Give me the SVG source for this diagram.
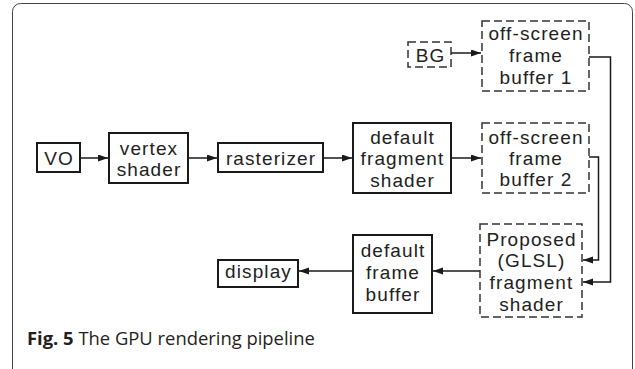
<svg xmlns="http://www.w3.org/2000/svg" width="635" height="369" viewBox="0 0 635 369">
<style>
.solid{fill:#fff;stroke:#1a1a1a;stroke-width:2}
.dash{fill:#fff;stroke:#333;stroke-width:1.5;stroke-dasharray:8 4}
.t{font-family:"Liberation Sans",Arial,sans-serif;font-size:19px;fill:#222;text-anchor:middle;letter-spacing:1.1px}
.c{fill:none;stroke:#1a1a1a;stroke-width:1.5}
.cap{font-family:"Open Sans","Noto Sans",sans-serif;font-size:18.4px;fill:#231f20}
</style>
<defs>
<marker id="ah" markerUnits="userSpaceOnUse" markerWidth="11" markerHeight="8" refX="10" refY="3.5" orient="auto">
<path d="M0,0 L10,3.5 L0,7 z" fill="#1a1a1a"/>
</marker>
</defs>
<rect x="0" y="0" width="635" height="369" fill="#fff"/>
<rect x="12.5" y="3.5" width="620" height="380" rx="8" fill="none" stroke="#444" stroke-width="1"/>
<g id="connectors">
<line class="c" x1="451" y1="53" x2="481" y2="53" marker-end="url(#ah)"/>
<line class="c" x1="80" y1="158" x2="108" y2="158" marker-end="url(#ah)"/>
<line class="c" x1="188" y1="158" x2="217" y2="158" marker-end="url(#ah)"/>
<line class="c" x1="323" y1="158" x2="352" y2="158" marker-end="url(#ah)"/>
<line class="c" x1="451" y1="158" x2="481" y2="158" marker-end="url(#ah)"/>
<path class="c" d="M589,57 H610.5 V282 H583" marker-end="url(#ah)"/>
<path class="c" d="M589,157 H598.5 V260 H583" marker-end="url(#ah)"/>
<line class="c" x1="480" y1="271" x2="433" y2="271" marker-end="url(#ah)"/>
<line class="c" x1="353" y1="271" x2="299" y2="271" marker-end="url(#ah)"/>
</g>
<g id="bg"><rect class="dash" x="408" y="42" width="43" height="25"/><text class="t" x="430.5" y="61.5">BG</text></g>
<g id="fb1"><rect class="dash" x="482" y="21" width="107" height="70"/>
<text class="t" x="536" y="40">off-screen</text><text class="t" x="536" y="61.5">frame</text><text class="t" x="536" y="83.5">buffer 1</text></g>
<g id="vo"><rect class="solid" x="37" y="143" width="43" height="29"/><text class="t" x="59" y="165">VO</text></g>
<g id="vertex"><rect class="solid" x="109" y="133" width="79" height="50"/>
<text class="t" x="149" y="154.5">vertex</text><text class="t" x="149" y="176">shader</text></g>
<g id="rasterizer"><rect class="solid" x="218" y="143" width="105" height="29"/><text class="t" x="271" y="165">rasterizer</text></g>
<g id="dfs"><rect class="solid" x="353" y="123" width="98" height="70"/>
<text class="t" x="402.5" y="143.5">default</text><text class="t" x="402.5" y="165">fragment</text><text class="t" x="402.5" y="186.5">shader</text></g>
<g id="fb2"><rect class="dash" x="482" y="123" width="107" height="70"/>
<text class="t" x="536" y="143.5">off-screen</text><text class="t" x="536" y="165">frame</text><text class="t" x="536" y="186">buffer 2</text></g>
<g id="proposed"><rect class="dash" x="480" y="224" width="102" height="93"/>
<text class="t" x="531.5" y="245.5">Proposed</text><text class="t" x="531.5" y="267">(GLSL)</text><text class="t" x="531.5" y="288.5">fragment</text><text class="t" x="531.5" y="310.5">shader</text></g>
<g id="dfb"><rect class="solid" x="353" y="235" width="79" height="78"/>
<text class="t" x="393" y="257">default</text><text class="t" x="393" y="278.5">frame</text><text class="t" x="393" y="300.5">buffer</text></g>
<g id="display"><rect class="solid" x="218" y="260" width="80" height="27"/><text class="t" x="258.5" y="278">display</text></g>
<text class="cap" x="27" y="345"><tspan font-weight="bold">Fig. 5</tspan> The GPU rendering pipeline</text>
</svg>
